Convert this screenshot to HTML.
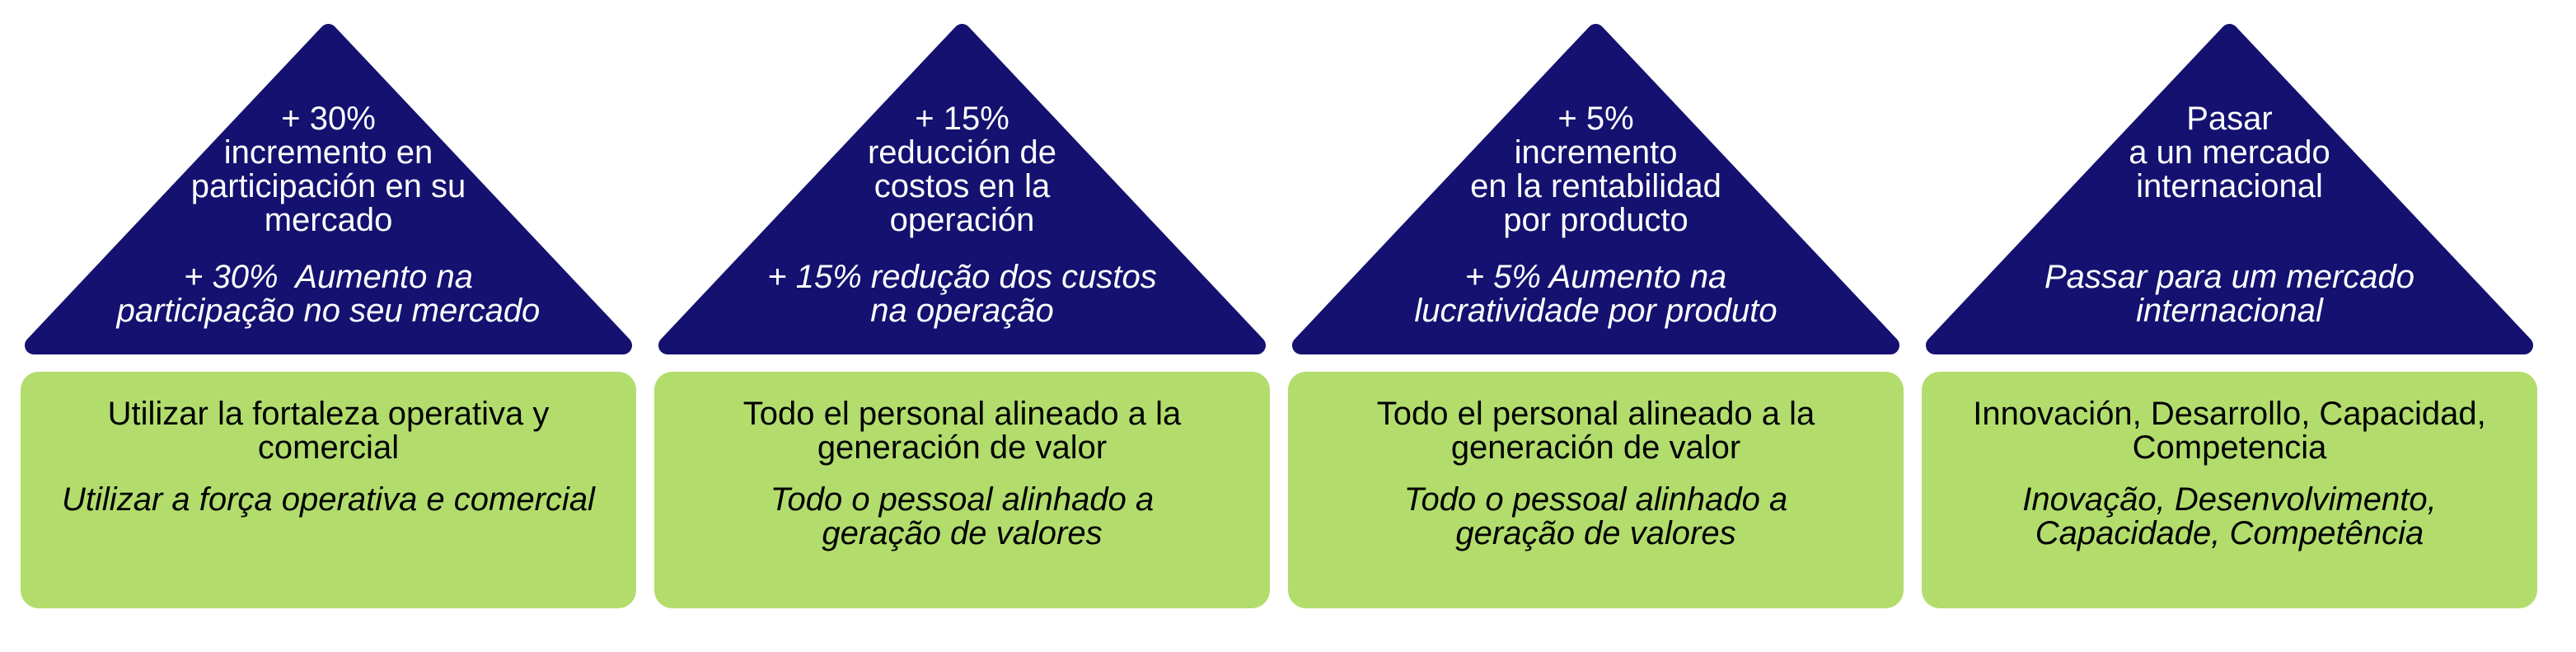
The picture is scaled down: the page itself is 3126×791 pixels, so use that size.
<!DOCTYPE html>
<html><head><meta charset="utf-8"><style>
html,body{margin:0;padding:0;background:#fff;}
body{width:3126px;height:791px;position:relative;overflow:hidden;font-family:"Liberation Sans",Arial,sans-serif;}
.col{position:absolute;top:0;width:747px;height:791px;}
.col svg{position:absolute;left:0;top:0;}
.box{position:absolute;left:0;top:451px;width:747px;height:287px;background:#b2dd6d;border-radius:22px;}
.t{position:absolute;left:0;width:747px;text-align:center;font-size:40px;line-height:41px;}
.w{color:#fff;}
.k{color:#000;}
.i{font-style:italic;}
</style></head><body>

<div class="col" style="left:25px">
<svg width="747" height="440"><polygon points="373.5,40 731,419 16,419" fill="#141170" stroke="#141170" stroke-width="22" stroke-linejoin="round"/></svg>
<div class="t w" style="top:124px">+ 30%<br>incremento en<br>participación en su<br>mercado</div>
<div class="t w i" style="top:316px">+ 30%&nbsp; Aumento na<br>participação no seu mercado</div>
<div class="box"></div>
<div class="t k" style="top:482px">Utilizar la fortaleza operativa y<br>comercial</div>
<div class="t k i" style="top:586px">Utilizar a força operativa e comercial</div>
</div>

<div class="col" style="left:794px">
<svg width="747" height="440"><polygon points="373.5,40 731,419 16,419" fill="#141170" stroke="#141170" stroke-width="22" stroke-linejoin="round"/></svg>
<div class="t w" style="top:124px">+ 15%<br>reducción de<br>costos en la<br>operación</div>
<div class="t w i" style="top:316px">+ 15% redução dos custos<br>na operação</div>
<div class="box"></div>
<div class="t k" style="top:482px">Todo el personal alineado a la<br>generación de valor</div>
<div class="t k i" style="top:586px">Todo o pessoal alinhado a<br>geração de valores</div>
</div>

<div class="col" style="left:1563px">
<svg width="747" height="440"><polygon points="373.5,40 731,419 16,419" fill="#141170" stroke="#141170" stroke-width="22" stroke-linejoin="round"/></svg>
<div class="t w" style="top:124px">+ 5%<br>incremento<br>en la rentabilidad<br>por producto</div>
<div class="t w i" style="top:316px">+ 5% Aumento na<br>lucratividade por produto</div>
<div class="box"></div>
<div class="t k" style="top:482px">Todo el personal alineado a la<br>generación de valor</div>
<div class="t k i" style="top:586px">Todo o pessoal alinhado a<br>geração de valores</div>
</div>

<div class="col" style="left:2332px">
<svg width="747" height="440"><polygon points="373.5,40 731,419 16,419" fill="#141170" stroke="#141170" stroke-width="22" stroke-linejoin="round"/></svg>
<div class="t w" style="top:124px">Pasar<br>a un mercado<br>internacional</div>
<div class="t w i" style="top:316px">Passar para um mercado<br>internacional</div>
<div class="box"></div>
<div class="t k" style="top:482px">Innovación, Desarrollo, Capacidad,<br>Competencia</div>
<div class="t k i" style="top:586px">Inovação, Desenvolvimento,<br>Capacidade, Competência</div>
</div>

</body></html>
